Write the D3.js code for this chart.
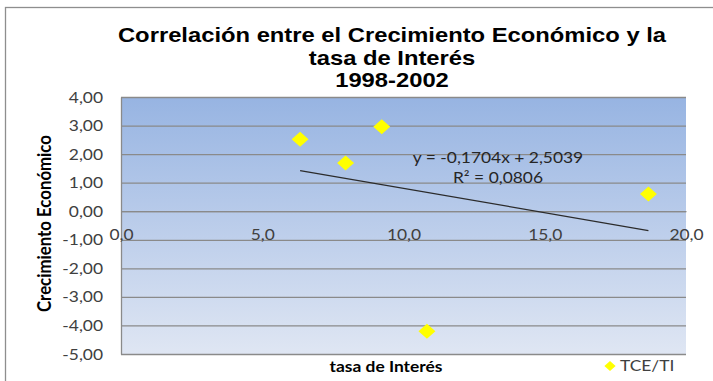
<!DOCTYPE html>
<html>
<head>
<meta charset="utf-8">
<script src="https://cdn.jsdelivr.net/npm/d3@7"></script>
<style>
  html, body { margin: 0; padding: 0; background: #ffffff; }
  svg { display: block; }
</style>
</head>
<body>
<svg id="chart" width="713" height="381"></svg>
<script>
// Tasa de interés (x) vs crecimiento económico (y), 1998-2002
const tasaInteres = [6.34, 7.95, 9.23, 10.83, 18.67];
const crecimiento = [2.52, 1.69, 2.96, -4.20, 0.60];
const seriesName = ["TCE/TI"];
// Linear trend reported by the spreadsheet
const trendSlope = [-0.1704];
const trendIntercept = [2.5039];
const trendR2 = [0.0806];
const yTicks = [4, 3, 2, 1, 0, -1, -2, -3, -4, -5];
const xTicks = [0, 5, 10, 15, 20];
const titleLines = ["Correlación entre el Crecimiento Económico y la", "tasa de Interés", "1998-2002"];
const xTitle = ["tasa de Interés"];
const yTitle = ["Crecimiento Económico"];

const SX = 1.16;           // horizontal stretch of the text
const bodyFont = "Lato, 'Open Sans', sans-serif";

const svg = d3.select("#chart");
const plot = { left: 121, right: 686, top: 97, bottom: 354 };

const locale = d3.formatLocale({ decimal: ",", thousands: ".", grouping: [3], currency: ["", ""], minus: "-" });
const f2 = locale.format(".2f");
const f1 = locale.format(".1f");
const f4 = locale.format(".4f");

const x = d3.scaleLinear().domain([0, 20]).range([plot.left, plot.right]);
const y = d3.scaleLinear().domain([-5, 4]).range([plot.bottom, plot.top]);

// outer chart frame
svg.append("rect")
  .attr("x", 5.5).attr("y", 7.5).attr("width", 900).attr("height", 600)
  .attr("fill", "#ffffff").attr("stroke", "#8e8e8e").attr("stroke-width", 1.3);

// plot background gradient
const defs = svg.append("defs");
const grad = defs.append("linearGradient").attr("id", "bg")
  .attr("x1", 0).attr("y1", 0).attr("x2", 0).attr("y2", 1);
grad.append("stop").attr("offset", "0%").attr("stop-color", "#97b4e2");
grad.append("stop").attr("offset", "100%").attr("stop-color", "#dfe6f3");
svg.append("rect")
  .attr("x", plot.left).attr("y", plot.top)
  .attr("width", plot.right - plot.left).attr("height", plot.bottom - plot.top)
  .attr("fill", "url(#bg)");

// horizontal gridlines
svg.append("g")
  .attr("transform", `translate(${plot.left},0)`)
  .call(d3.axisLeft(y).tickValues(yTicks).tickSize(-(plot.right - plot.left)).tickFormat(""))
  .call(g => g.select(".domain").remove())
  .call(g => g.selectAll("line").attr("stroke", "#8a8a8a").attr("stroke-width", 1.3));

// vertical axis line + labels
const yAxis = svg.append("g")
  .attr("transform", `translate(${plot.left},0)`)
  .call(d3.axisLeft(y).tickValues(yTicks).tickSize(0).tickFormat(f2));
yAxis.select(".domain").attr("stroke", "#8a8a8a").attr("stroke-width", 1.3);
yAxis.selectAll("text")
  .attr("x", -18 / SX)
  .attr("dy", "0.34em")
  .attr("transform", `scale(${SX},1)`)
  .style("font-family", bodyFont).style("font-size", "15px").attr("fill", "#404040");

// horizontal axis through zero
const xAxis = svg.append("g")
  .attr("transform", `translate(0,${y(0)})`)
  .call(d3.axisBottom(x).tickValues(xTicks).tickSize(0).tickFormat(f1));
xAxis.select(".domain").attr("stroke", "#8a8a8a").attr("stroke-width", 1.3);
xAxis.selectAll("text")
  .attr("y", 29).attr("dy", 0)
  .attr("transform", `scale(${SX},1)`)
  .attr("x", 0)
  .style("font-family", bodyFont).style("font-size", "15px").attr("fill", "#404040");

// stretched text helper
function label(parent, px, py, str, opts) {
  const g = parent.append("g").attr("transform", `translate(${px},${py}) scale(${SX},1)`);
  return g.append("text")
    .attr("text-anchor", opts.anchor || "middle")
    .style("font-family", opts.font || bodyFont)
    .style("font-size", opts.size + "px")
    .style("font-weight", opts.weight || "normal")
    .attr("fill", opts.fill || "#000")
    .text(str);
}

// trend line drawn from the reported coefficients over the data range
const xMin = d3.min(tasaInteres), xMax = d3.max(tasaInteres);
const trend = d3.line().x(d => x(d)).y(d => y(trendIntercept[0] + trendSlope[0] * d));
svg.append("path")
  .datum([xMin, xMax])
  .attr("d", trend)
  .attr("fill", "none").attr("stroke", "#2b2b2b").attr("stroke-width", 1.2);

// equation and R²
const eq = `y = ${f4(trendSlope[0])}x + ${f4(trendIntercept[0])}`;
label(svg, 498, 163, eq, { size: 15, fill: "#262626" });
label(svg, 498, 183, `R² = ${f4(trendR2[0])}`, { size: 15, fill: "#262626" });

// data points
const diamond = d3.symbol().type(d3.symbolSquare).size(112);
svg.append("g").selectAll("path")
  .data(tasaInteres.map((v, i) => [v, crecimiento[i]]))
  .join("path")
  .attr("d", diamond)
  .attr("transform", d => `translate(${x(d[0])},${y(d[1])}) scale(1.13,1) rotate(45)`)
  .attr("fill", "#ffff00");

// title
titleLines.forEach((t, i) => {
  label(svg, 392, 42 + i * 22.5, t, { size: 20.5, weight: "bold", font: "'Liberation Sans', Arial, sans-serif" });
});

// axis titles
label(svg, 386, 372, xTitle[0], { size: 15, weight: "bold" });
svg.append("text")
  .attr("transform", `translate(51,${(plot.top + plot.bottom) / 2 - 2}) rotate(-90) scale(1,${SX})`)
  .attr("text-anchor", "middle")
  .style("font-family", bodyFont).style("font-size", "16.8px").style("font-weight", "bold")
  .text(yTitle[0]);

// legend
svg.append("path")
  .attr("d", d3.symbol().type(d3.symbolSquare).size(50))
  .attr("transform", `translate(610,366) scale(1.13,1) rotate(45)`)
  .attr("fill", "#ffff00");
label(svg, 620, 371, seriesName[0], { size: 15, anchor: "start", fill: "#404040" });
</script>
</body>
</html>
